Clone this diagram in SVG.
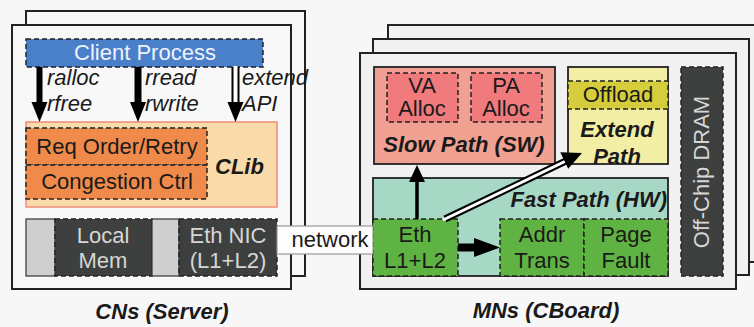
<svg xmlns="http://www.w3.org/2000/svg" width="754" height="327" viewBox="0 0 754 327">
<defs>
<style>
text{font-family:"Liberation Sans",Arial,sans-serif;font-size:22px;fill:#1a1a1a}
.bi{font-weight:bold;font-style:italic}
.it{font-style:italic}
.c{text-anchor:middle}
.frame{fill:#f1f1f1;stroke:#222;stroke-width:2}
.dash{stroke:#222;stroke-width:1.5;stroke-dasharray:5 3}
.solid{stroke:#222;stroke-width:1.8}
</style>
</defs>
<rect x="0" y="0" width="754" height="327" fill="#f7f7f7"/>

<g id="cn-server">
<rect x="26" y="11" width="279" height="265" fill="#f8f8f8" stroke="#222" stroke-width="2"/>
<rect x="12" y="25" width="279" height="264" fill="#f8f8f8" stroke="#222" stroke-width="2"/>
<text class="bi c" x="162" y="319" font-size="23">CNs (Server)</text>
</g>

<g id="client-process">
<rect x="26" y="39" width="237" height="28" fill="#4a7fca" class="dash"/>
<text class="c" x="145" y="60" style="fill:#eef3fb">Client Process</text>
</g>

<g id="clib">
<rect x="26" y="122" width="251" height="85" fill="#f9dba9" stroke="#f08a78" stroke-width="1.5"/>
<text class="bi" x="215" y="174">CLib</text>
</g>
<g id="req-order">
<rect x="26" y="128" width="181" height="37" fill="#ef8a4b" class="dash"/>
<text class="c" x="117" y="154">Req Order/Retry</text>
</g>
<g id="congestion">
<rect x="26" y="165" width="181" height="34" fill="#ef8a4b" class="dash"/>
<text class="c" x="117" y="189">Congestion Ctrl</text>
</g>

<g id="local-mem">
<rect x="26" y="219" width="29" height="57" fill="#cfcfcf" stroke="#333" stroke-width="1.2"/>
<rect x="55" y="219" width="97" height="57" fill="#3e403f" class="dash"/>
<text class="c" x="103" y="243" style="fill:#d6d6d6">Local</text>
<text class="c" x="103" y="268" style="fill:#d6d6d6">Mem</text>
</g>
<g id="eth-nic">
<rect x="152" y="219" width="27" height="57" fill="#cfcfcf" stroke="#333" stroke-width="1.2"/>
<rect x="179" y="219" width="98" height="57" fill="#3e403f" class="dash"/>
<text class="c" x="228" y="243" style="fill:#d6d6d6">Eth NIC</text>
<text class="c" x="228" y="268" style="fill:#d6d6d6">(L1+L2)</text>
</g>

<g id="mn-cboard">
<rect x="388" y="25" width="372" height="237" class="frame"/>
<rect x="373" y="39" width="376" height="236" class="frame"/>
<rect x="360" y="53" width="376" height="236" class="frame"/>
<text class="bi c" x="546" y="318" font-size="23">MNs (CBoard)</text>
</g>

<g id="slow-path">
<rect x="374" y="67" width="181" height="97" fill="#f1a192" class="solid"/>
<text class="bi c" x="464" y="152">Slow Path (SW)</text>
</g>
<g id="va-alloc">
<rect x="387" y="73" width="71" height="49" fill="#f07a7c" class="dash"/>
<text class="c" x="422" y="93">VA</text>
<text class="c" x="422" y="116">Alloc</text>
</g>
<g id="pa-alloc">
<rect x="471" y="73" width="71" height="49" fill="#f07a7c" class="dash"/>
<text class="c" x="506" y="93">PA</text>
<text class="c" x="506" y="116">Alloc</text>
</g>

<g id="extend-path">
<rect x="568" y="67" width="100" height="97" fill="#f3eea6" class="solid"/>
<text class="bi c" x="617" y="137">Extend</text>
<text class="bi c" x="617" y="164">Path</text>
</g>
<g id="offload">
<rect x="568" y="81" width="100" height="28" fill="#d6cd3c" class="dash"/>
<text class="c" x="618" y="102">Offload</text>
</g>

<g id="fast-path">
<rect x="373" y="178" width="295" height="98" fill="#a7d8c6" class="solid"/>
<text class="bi" x="667" y="207" text-anchor="end">Fast Path (HW)</text>
</g>
<g id="eth-l1l2">
<rect x="373" y="219" width="85" height="57" fill="#5fb342" class="dash"/>
<text class="c" x="415" y="242">Eth</text>
<text class="c" x="415" y="268">L1+L2</text>
</g>
<g id="addr-trans">
<rect x="500" y="219" width="84" height="57" fill="#5fb342" class="dash"/>
<text class="c" x="542" y="242">Addr</text>
<text class="c" x="542" y="268">Trans</text>
</g>
<g id="page-fault">
<rect x="584" y="219" width="84" height="57" fill="#5fb342" class="dash"/>
<text class="c" x="626" y="242">Page</text>
<text class="c" x="626" y="268">Fault</text>
</g>

<g id="off-chip-dram">
<rect x="681" y="67" width="42" height="209" fill="#3e403f" class="dash"/>
<text class="c" transform="translate(709,172) rotate(-90)" style="fill:#d6d6d6">Off-Chip DRAM</text>
</g>

<g id="connectors">
<!-- ralloc/rfree -->
<line x1="39.5" y1="67" x2="39.5" y2="104" stroke="#000" stroke-width="6"/>
<polygon points="31.5,102 47.5,102 39.5,122" fill="#000"/>
<text class="it" x="47" y="85">ralloc</text>
<text class="it" x="47" y="111">rfree</text>
<!-- rread/rwrite -->
<line x1="138" y1="67" x2="138" y2="104" stroke="#000" stroke-width="7"/>
<polygon points="130,102 146,102 138,122" fill="#000"/>
<text class="it" x="145" y="85">rread</text>
<text class="it" x="145" y="111">rwrite</text>
<!-- extend API -->
<line x1="235.5" y1="67" x2="235.5" y2="104" stroke="#000" stroke-width="8"/>
<line x1="235.5" y1="66" x2="235.5" y2="104" stroke="#fff" stroke-width="4"/>
<polygon points="227.5,102 243.5,102 235.5,122" fill="#000"/>
<text class="it" x="242" y="85">extend</text>
<text class="it" x="242" y="111">API</text>
<!-- Eth -> Slow path -->
<line x1="417" y1="219" x2="417" y2="180" stroke="#000" stroke-width="3.5"/>
<polygon points="409,182 425,182 417,165" fill="#000"/>
<!-- Eth -> Addr Trans -->
<line x1="458" y1="247.5" x2="478" y2="247.5" stroke="#000" stroke-width="8"/>
<polygon points="474,238 474,257 500,247.5" fill="#000"/>
<!-- Eth -> Extend path (double line) -->
<line x1="445" y1="219" x2="569" y2="159.5" stroke="#000" stroke-width="7"/>
<line x1="443" y1="220" x2="569" y2="159.5" stroke="#fff" stroke-width="3"/>
<polygon points="582,153 560.3,152.3 568.2,168.7" fill="#000"/>
<!-- network link -->
<rect x="277" y="226" width="96" height="28" fill="#fdfdfd" stroke="#999" stroke-width="1.2"/>
<text class="c" x="330" y="247">network</text>
</g>
</svg>
